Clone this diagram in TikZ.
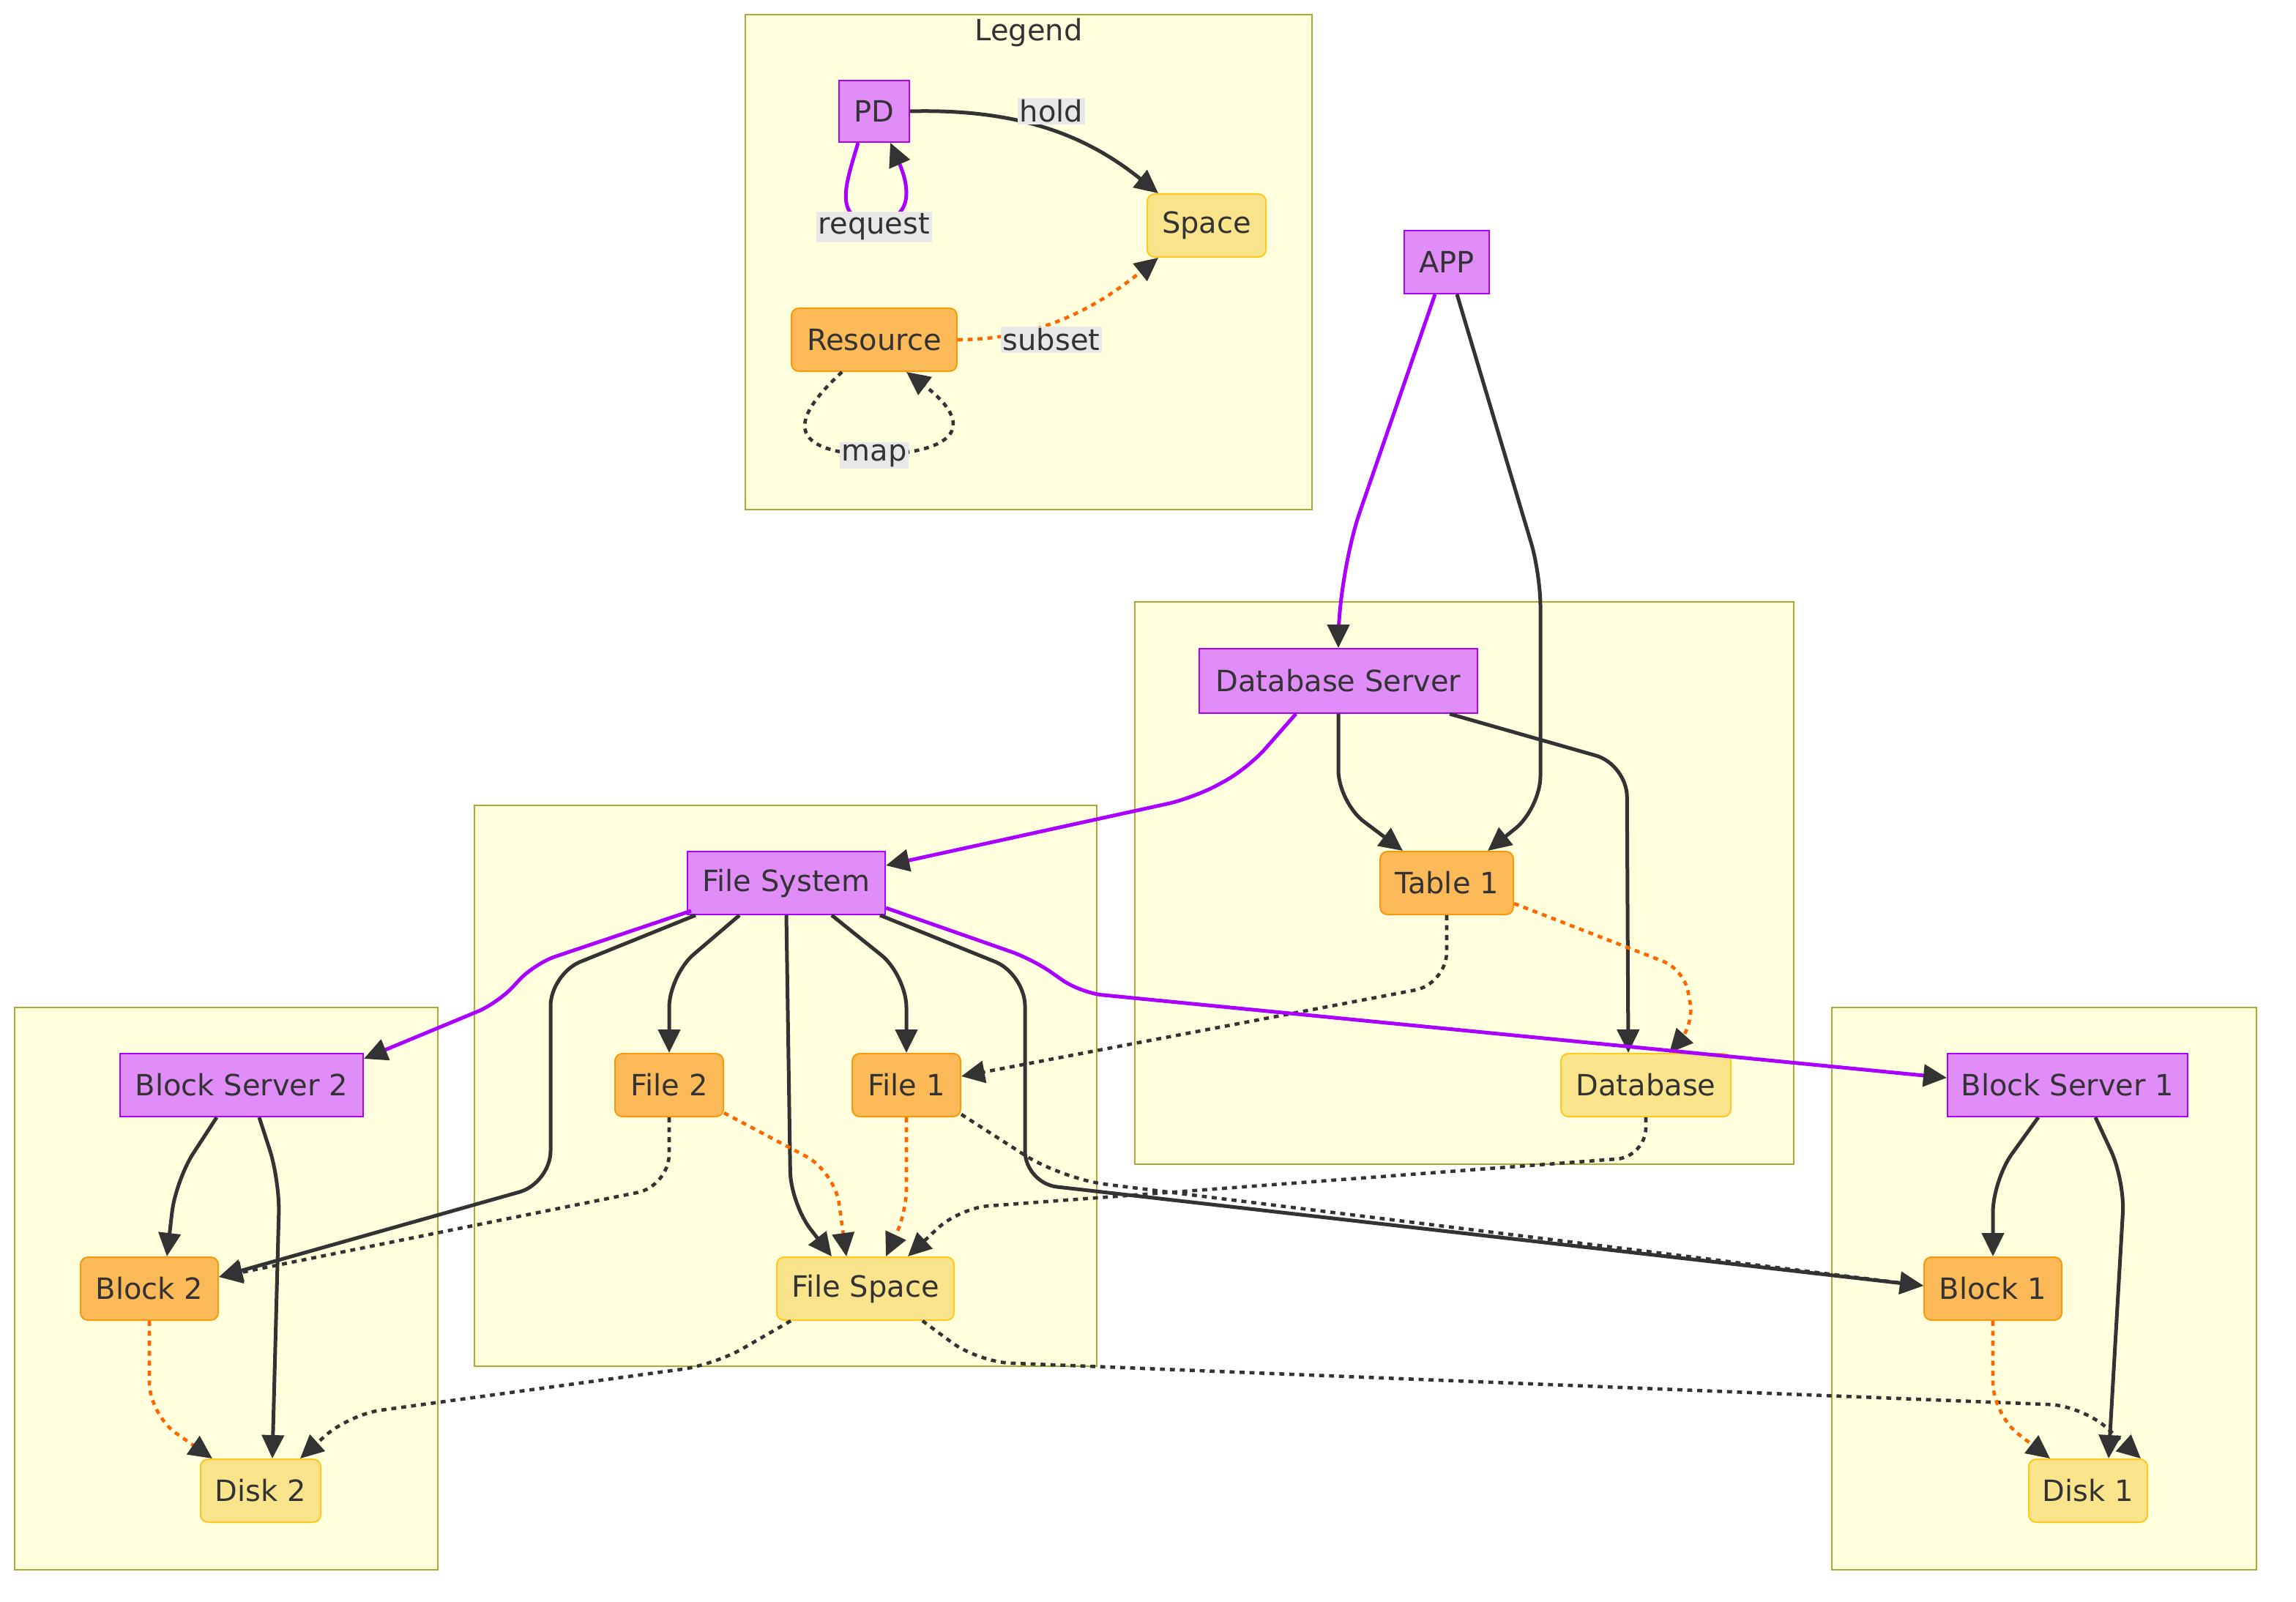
\documentclass[tikz,border=0pt]{standalone}
\usepackage{fontspec}
\setmainfont{DejaVu Sans}
\usetikzlibrary{arrows.meta}
\definecolor{txt}{HTML}{333333}
\definecolor{pdfill}{HTML}{E08CF9}
\definecolor{pdline}{HTML}{AA00FF}
\definecolor{resfill}{HTML}{FBB957}
\definecolor{resline}{HTML}{F59A0C}
\definecolor{spcfill}{HTML}{F9E48B}
\definecolor{spcline}{HTML}{FFC81E}
\definecolor{clfill}{HTML}{FFFFDE}
\definecolor{clline}{HTML}{AAAA33}
\definecolor{orng}{HTML}{FF6600}
\definecolor{lblbg}{HTML}{E8E8E8}
\tikzset{
  base/.style={inner sep=0pt, minimum height=43pt, text=txt, font=\fontsize{20}{24}\selectfont, line width=1pt},
  pdbox/.style={base, rectangle, fill=pdfill, draw=pdline},
  resbox/.style={base, rectangle, rounded corners=5pt, fill=resfill, draw=resline},
  spcbox/.style={base, rectangle, rounded corners=5pt, fill=spcfill, draw=spcline},
  cluster/.style={fill=clfill, draw=clline, line width=1pt},
  lbl/.style={fill=lblbg, inner sep=1.5pt, text=txt, font=\fontsize{20}{24}\selectfont},
  tip/.style={-{Triangle[length=16pt,width=15pt,color=txt]}},
  dotline/.style={line width=2.3pt, dash pattern=on 3.4pt off 3.4pt},
  ed/.style={tip, draw=txt, line width=2.5pt, rounded corners=22pt},
  ep/.style={tip, draw=pdline, line width=2.5pt, rounded corners=22pt},
  eo/.style={tip, draw=orng, dotline, rounded corners=22pt},
  edd/.style={tip, draw=txt, dotline, rounded corners=22pt},
}
\begin{document}
\begin{tikzpicture}[x=1pt,y=-1pt]
\useasboundingbox (0,0) rectangle (1568,1094);
% clusters
\draw[cluster] (509,10) rectangle (896,348);
\node[text=txt, font=\fontsize{20}{24}\selectfont] (legtitle) at (702.5,22) {Legend};
\draw[cluster] (775,411) rectangle (1225,795);
\draw[cluster] (324,550) rectangle (749,933);
\draw[cluster] (10,688) rectangle (299,1072);
\draw[cluster] (1251,688) rectangle (1541,1072);
% legend nodes
\node[pdbox, minimum width=48pt, minimum height=42pt] (pd) at (597,76) {PD};
\node[spcbox, minimum width=81pt] (space) at (824,154) {Space};
\node[resbox, minimum width=113pt] (res) at (597,232) {Resource};
% main nodes
\node[pdbox, minimum width=58pt] (app) at (988,179) {APP};
\node[pdbox, minimum width=190pt, minimum height=44pt] (dbs) at (914,465) {Database Server};
\node[resbox, minimum width=91pt] (t1) at (988,603) {Table 1};
\node[spcbox, minimum width=116pt] (db) at (1124,741) {Database};
\node[pdbox, minimum width=135pt] (fs) at (537,603) {File System};
\node[resbox, minimum width=74pt] (f2) at (457,741) {File 2};
\node[resbox, minimum width=74pt] (f1) at (619,741) {File 1};
\node[spcbox, minimum width=121pt] (fsp) at (591,880) {File Space};
\node[pdbox, minimum width=166pt] (bs2) at (165,741) {Block Server 2};
\node[resbox, minimum width=94pt] (b2) at (102,880) {Block 2};
\node[spcbox, minimum width=82pt] (d2) at (178,1018) {Disk 2};
\node[pdbox, minimum width=164pt] (bs1) at (1412,741) {Block Server 1};
\node[resbox, minimum width=94pt] (b1) at (1361,880) {Block 1};
\node[spcbox, minimum width=81pt] (d1) at (1426,1018) {Disk 1};
% legend edges
\draw[tip, draw=txt, line width=2.5pt] (pd.east) .. controls (700,74) and (745,95) .. ([xshift=-33pt]space.north);
\node[lbl] (lhold) at (718,76) {hold};
\draw[tip, draw=pdline, line width=2.5pt] ([xshift=-11pt]pd.south) .. controls (578,125) and (568,150) .. (597,152) .. controls (626,150) and (620,125) .. ([xshift=11pt]pd.south);
\node[lbl] (lreq) at (597,155) {request};
\draw[tip, draw=orng, dotline] (res.east) .. controls (715,232) and (755,205) .. ([xshift=-33pt]space.south);
\node[lbl] (lsub) at (718,232) {subset};
\draw[tip, draw=txt, dotline] ([xshift=-22pt]res.south) .. controls (545,282) and (530,308) .. (597,311) .. controls (664,308) and (660,285) .. ([xshift=22pt]res.south);
\node[lbl] (lmap) at (597,311) {map};
% main edges
\draw[ep, rounded corners=45pt] ([xshift=-8pt]app.south) -- (914,392) -- (dbs.north);
\draw[ed] ([xshift=7pt]app.south) -- (1052,392) -- (1052,552) -- ([xshift=28pt]t1.north);
\draw[ep, rounded corners=18pt] ([xshift=-29pt]dbs.south) -- (852,525) -- (815,545) -- ([yshift=12pt]fs.east);
\draw[ed] (dbs.south) -- (914,548) -- ([xshift=-30pt]t1.north);
\draw[ed] ([xshift=76pt]dbs.south) -- (1111,522) -- ([xshift=-12pt]db.north);
\draw[eo, rounded corners=15pt] ([yshift=-14pt]t1.east) -- (1150,662) -- (1157,700) -- ([xshift=16pt]db.north);
\draw[edd] (t1.south) -- (988,672) -- ([yshift=6pt]f1.east);
\draw[ep, rounded corners=15pt] ([xshift=-65pt,yshift=3pt]fs.south) -- (365,658) -- (340,685) -- ([yshift=18pt]bs2.east);
\draw[ed] ([xshift=-62pt]fs.south) -- (376,665) -- (376,808) -- ([yshift=8pt]b2.east);
\draw[ed] ([xshift=-32pt]fs.south) -- (457,666) -- (f2.north);
\draw[ed] (fs.south) -- (540,822) -- ([xshift=-23pt]fsp.north);
\draw[ed] ([xshift=31pt]fs.south) -- (619,666) -- (f1.north);
\draw[ed] ([xshift=64pt]fs.south) -- (700,665) -- (700,808) -- ([yshift=2pt]b1.west);
\draw[ep, rounded corners=15pt] ([yshift=-17pt]fs.east) -- (705,655) -- (738,678) -- ([yshift=5pt]bs1.west);
\draw[edd] (f2.south) -- (457,810) -- ([yshift=8pt]b2.east);
\draw[eo] ([yshift=-19pt]f2.east) -- (570,800) -- ([xshift=-13pt]fsp.north);
\draw[eo, rounded corners=16pt] (f1.south) -- (619,828) -- ([xshift=14pt]fsp.north);
\draw[edd, rounded corners=30pt] ([yshift=-20pt]f1.east) -- (725,805) -- ([yshift=2pt]b1.west);
\draw[edd, rounded corners=20pt] (db.south) -- (1124,790) -- (655,825) -- ([xshift=29pt]fsp.north);
\draw[edd] ([xshift=-51pt]fsp.south) -- (488,932) -- (238,966) -- ([xshift=27pt]d2.north);
\draw[edd] ([xshift=39pt]fsp.south) -- (668,930) -- (1422,960) -- ([xshift=36pt]d1.north);
\draw[ed] ([xshift=-17pt]bs2.south) -- (120,806) -- ([xshift=12pt]b2.north);
\draw[ed] ([xshift=12pt]bs2.south) -- (191,806) -- ([xshift=8pt]d2.north);
\draw[eo] (b2.south) -- (102,966) -- ([xshift=-33pt]d2.north);
\draw[ed] ([xshift=-20pt]bs1.south) -- (1361,806) -- (b1.north);
\draw[ed] ([xshift=19pt]bs1.south) -- (1451,806) -- ([xshift=14pt]d1.north);
\draw[eo] (b1.south) -- (1361,966) -- ([xshift=-26pt]d1.north);
\end{tikzpicture}
\end{document}
